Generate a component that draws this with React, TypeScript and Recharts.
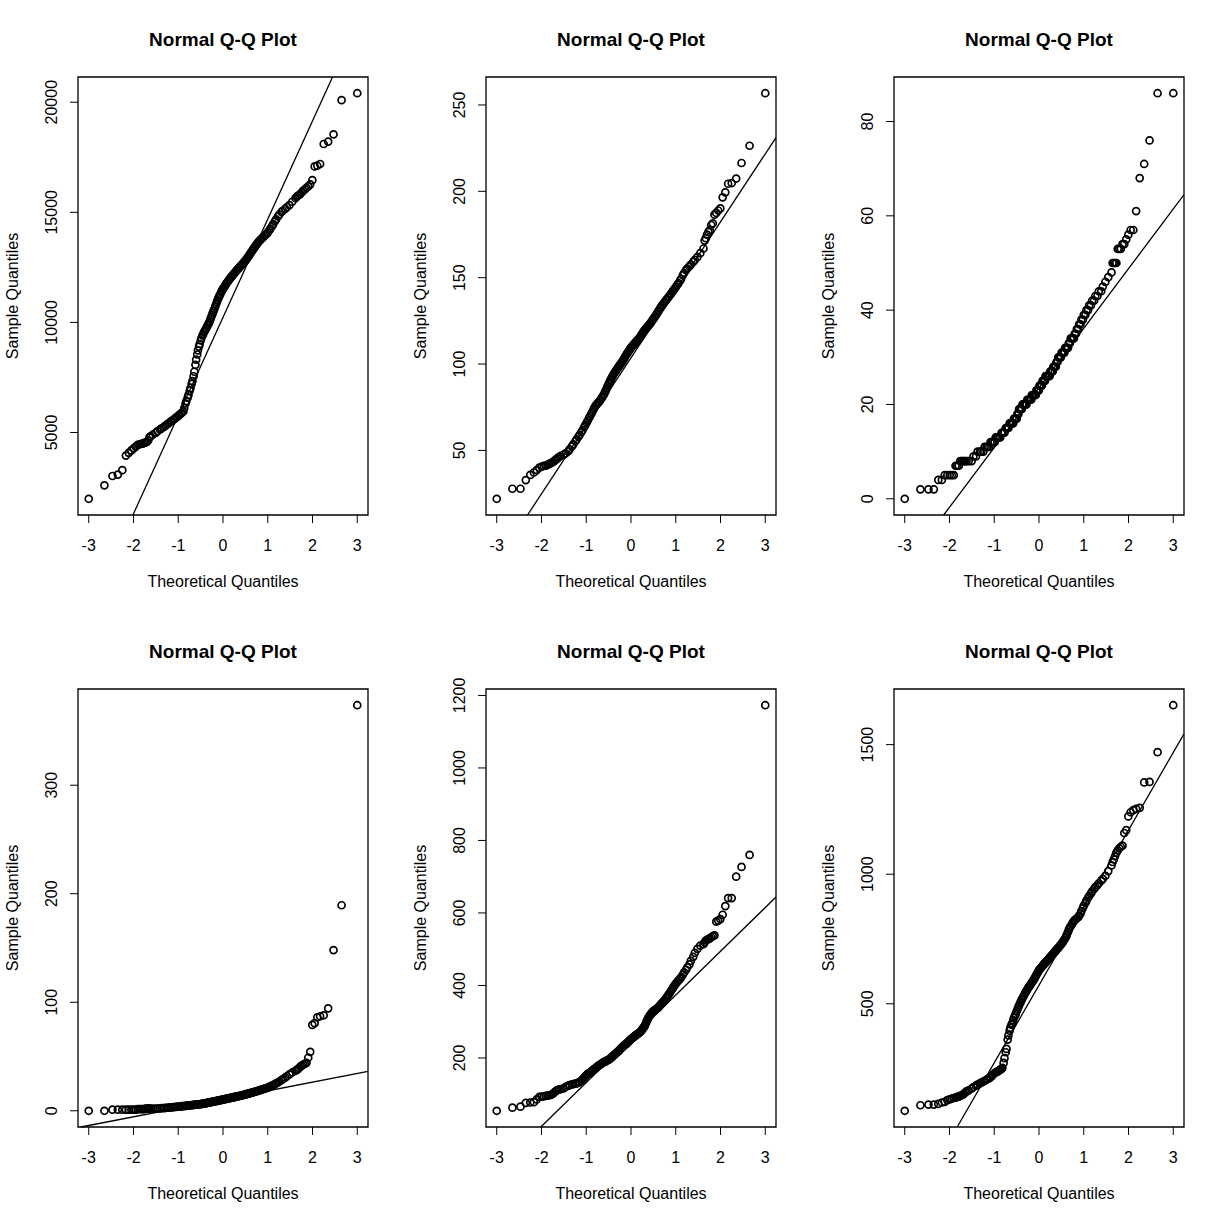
import { ScatterChart, Scatter, XAxis, YAxis, ReferenceLine, ReferenceArea } from "recharts";

const FONT = '"Liberation Sans", Arial, Helvetica, sans-serif';

// theoretical normal quantiles of the plotted ranks (n = 370)
const THEORETICAL = [
	-3.0, -2.65, -2.47, -2.35, -2.25, -2.17, -2.107, -2.048, -1.996, -1.949,
	-1.905, -1.865, -1.828, -1.793, -1.76, -1.729, -1.7, -1.672, -1.645, -1.62,
	-1.571, -1.505, -1.464, -1.407, -1.372, -1.321, -1.29, -1.243, -1.215, -1.174,
	-1.147, -1.109, -1.083, -1.048, -1.025, -0.991, -0.969, -0.937, -0.916, -0.886,
	-0.866, -0.837, -0.818, -0.79, -0.771, -0.744, -0.726, -0.7, -0.683, -0.657,
	-0.641, -0.616, -0.6, -0.576, -0.56, -0.536, -0.521, -0.497, -0.482, -0.459,
	-0.445, -0.422, -0.408, -0.385, -0.371, -0.349, -0.335, -0.313, -0.299, -0.278,
	-0.264, -0.243, -0.229, -0.208, -0.194, -0.174, -0.16, -0.139, -0.126, -0.105,
	-0.092, -0.071, -0.058, -0.037, -0.024, -0.003, 0.01, 0.031, 0.044, 0.064,
	0.078, 0.098, 0.112, 0.133, 0.146, 0.167, 0.181, 0.201, 0.215, 0.236,
	0.25, 0.271, 0.285, 0.306, 0.32, 0.341, 0.356, 0.377, 0.392, 0.414,
	0.429, 0.451, 0.467, 0.489, 0.505, 0.528, 0.544, 0.568, 0.584, 0.608,
	0.624, 0.649, 0.666, 0.691, 0.709, 0.735, 0.753, 0.78, 0.798, 0.827,
	0.846, 0.876, 0.896, 0.927, 0.948, 0.981, 1.002, 1.036, 1.06, 1.096,
	1.121, 1.16, 1.187, 1.229, 1.258, 1.305, 1.337, 1.39, 1.426, 1.484,
	1.548,
	1.62, 1.645, 1.672, 1.7, 1.729, 1.76, 1.793, 1.828, 1.865, 1.905,
	1.949, 1.996, 2.048, 2.107, 2.17, 2.25, 2.35, 2.47, 2.65, 3.0,
];

const X_TICKS = [-3, -2, -1, 0, 1, 2, 3];

const SAMPLE_1 = [
	1990, 2602, 3025, 3087, 3291, 3950, 4075, 4185, 4280, 4357,
	4436, 4467, 4483, 4498, 4530, 4545, 4577, 4640, 4780, 4827,
	4900, 4984, 5060, 5141, 5190, 5251, 5300, 5376, 5420, 5486,
	5525, 5580, 5620, 5674, 5710, 5768, 5810, 5862, 5909, 5956,
	6113, 6317, 6426, 6583, 6708, 6897, 7022, 7210, 7335, 7555,
	7759, 8072, 8307, 8542, 8730, 8903, 9020, 9185, 9290, 9404,
	9470, 9561, 9620, 9687, 9750, 9843, 9900, 9969, 10050, 10157,
	10240, 10345, 10430, 10533, 10610, 10721, 10800, 10909, 10990, 11097,
	11160, 11238, 11300, 11379, 11440, 11520, 11560, 11614, 11660, 11724,
	11770, 11834, 11870, 11928, 11970, 12022, 12055, 12100, 12140, 12194,
	12230, 12273, 12310, 12367, 12400, 12445, 12480, 12524, 12560, 12602,
	12640, 12696, 12730, 12774, 12820, 12884, 12930, 12994, 13045, 13119,
	13170, 13244, 13295, 13370, 13420, 13495, 13545, 13621, 13670, 13730,
	13770, 13824, 13870, 13934, 13975, 14028, 14090, 14185, 14260, 14373,
	14460, 14592, 14680, 14812, 14900, 15016, 15070, 15157, 15230, 15329,
	15480,
	15643, 15705, 15752, 15784, 15831, 15909, 15987, 16035, 16113, 16176,
	16270, 16458, 17085, 17116, 17194, 18103, 18213, 18542, 20094, 20408,
];

const SAMPLE_2 = [
	22.0, 27.8, 27.8, 32.8, 35.8, 37.2, 38.6, 40.0, 40.6, 41.0,
	41.2, 41.6, 42.2, 42.6, 43.0, 43.6, 44.2, 44.8, 45.4, 46.0,
	46.8, 47.5, 48.3, 49.4, 50.6, 52.3, 53.5, 55.3, 56.4, 58.0,
	59.0, 60.6, 61.7, 63.4, 64.5, 66.0, 67.2, 68.8, 69.8, 71.3,
	72.3, 73.8, 74.8, 75.9, 76.5, 77.3, 77.8, 78.6, 79.3, 80.3,
	80.9, 82.0, 82.7, 84.0, 84.9, 86.4, 87.3, 88.7, 89.4, 90.6,
	91.4, 92.5, 93.2, 94.2, 94.8, 95.6, 96.2, 97.1, 97.6, 98.4,
	98.9, 99.7, 100.2, 100.9, 101.5, 102.3, 102.9, 103.9, 104.5, 105.4,
	105.9, 106.7, 107.2, 108.0, 108.6, 109.4, 109.8, 110.4, 110.8, 111.4,
	111.8, 112.4, 112.9, 113.5, 113.9, 114.5, 114.9, 115.5, 116.1, 117.0,
	117.5, 118.3, 118.9, 119.7, 120.1, 120.7, 121.2, 121.8, 122.3, 123.0,
	123.5, 124.3, 124.9, 125.7, 126.3, 127.2, 127.8, 128.8, 129.4, 130.4,
	131.1, 132.1, 132.8, 133.8, 134.4, 135.3, 135.9, 136.8, 137.5, 138.4,
	139.1, 140.1, 140.8, 141.9, 142.7, 143.8, 144.6, 145.9, 146.8, 148.3,
	149.4, 151.5, 152.7, 154.4, 155.3, 156.6, 157.6, 159.2, 160.3, 162.0,
	164.2,
	166.9, 171.5, 172.9, 174.9, 176.5, 177.5, 180.5, 181.5, 186.5, 187.5,
	188.9, 190.1, 196.5, 199.4, 204.4, 204.8, 207.4, 216.4, 226.4, 256.8,
];

const SAMPLE_3 = [
	0, 2, 2, 2, 4, 4, 5, 5, 5, 5,
	5, 7, 7, 7, 8, 8, 8, 8, 8, 8,
	8, 8, 9, 9, 10, 10, 10, 10, 11, 11,
	11, 11, 12, 12, 12, 12, 13, 13, 13, 13,
	13, 14, 14, 14, 14, 15, 15, 15, 15, 16,
	16, 16, 16, 16, 17, 17, 17, 17, 18, 18,
	19, 19, 19, 19, 20, 20, 20, 20, 20, 20,
	21, 21, 21, 21, 21, 21, 22, 22, 22, 22,
	22, 22, 23, 23, 23, 23, 24, 24, 24, 24,
	25, 25, 25, 25, 26, 26, 26, 26, 26, 26,
	27, 27, 27, 27, 28, 28, 28, 28, 29, 29,
	30, 30, 30, 30, 31, 31, 31, 31, 32, 32,
	32, 32, 33, 33, 34, 34, 34, 34, 35, 35,
	36, 36, 37, 37, 38, 38, 39, 39, 40, 40,
	41, 41, 42, 42, 43, 43, 44, 44, 45, 46,
	47,
	48, 50, 50, 50, 50, 53, 53, 53, 54, 54,
	55, 56, 57, 57, 61, 68, 71, 76, 86, 86,
];

const SAMPLE_4 = [
	0, 0, 1, 1, 1, 1, 1, 1, 1, 1,
	1.5, 1.5, 1.5, 1.5, 1.5, 2, 2, 2, 2, 2,
	2.0, 2.0, 2.1, 2.2, 2.4, 2.5, 2.6, 2.8, 2.9, 3.1,
	3.2, 3.4, 3.5, 3.6, 3.7, 3.8, 3.9, 4.1, 4.2, 4.3,
	4.4, 4.5, 4.6, 4.8, 4.9, 5.0, 5.1, 5.2, 5.3, 5.4,
	5.5, 5.6, 5.7, 5.8, 5.9, 6.0, 6.0, 6.1, 6.3, 6.4,
	6.5, 6.7, 6.8, 7.0, 7.1, 7.3, 7.4, 7.6, 7.7, 7.9,
	8.0, 8.2, 8.3, 8.5, 8.6, 8.8, 8.9, 9.1, 9.2, 9.4,
	9.5, 9.7, 9.8, 10.0, 10.1, 10.3, 10.4, 10.6, 10.7, 10.9,
	11.0, 11.2, 11.3, 11.5, 11.6, 11.8, 11.9, 12.1, 12.3, 12.5,
	12.6, 12.8, 12.9, 13.1, 13.2, 13.4, 13.6, 13.8, 13.9, 14.1,
	14.3, 14.5, 14.7, 14.9, 15.1, 15.3, 15.5, 15.8, 16.0, 16.3,
	16.5, 16.8, 17.0, 17.3, 17.5, 17.8, 18.0, 18.4, 18.7, 19.0,
	19.3, 19.6, 19.9, 20.3, 20.6, 21.0, 21.4, 22.0, 22.5, 23.2,
	23.7, 24.5, 25.2, 26.2, 27.0, 28.2, 29.1, 30.6, 31.8, 33.5,
	35.3,
	36.9, 37.5, 38.4, 39.4, 40.7, 41.6, 42.6, 43.2, 44.2, 48.9,
	54.3, 79.1, 80.7, 86.1, 87.1, 88.0, 94.4, 148.1, 189.4, 373.7,
];

const SAMPLE_5 = [
	54.3, 62.9, 65.7, 76.2, 77.1, 78, 85.7, 92.4, 93.3, 94.3,
	95.2, 96.2, 97.1, 98.1, 100, 102.9, 106.7, 109.5, 111.4, 112.4,
	114, 116, 120, 123, 125, 127, 128, 129, 130, 132,
	134, 137, 141, 145, 149, 153, 156, 158, 160, 163,
	165, 168, 170, 172, 174, 177, 179, 181, 182, 184,
	186, 188, 189, 190, 191, 193, 194, 195, 197, 199,
	201, 203, 205, 207, 209, 211, 213, 215, 217, 219,
	221, 224, 226, 228, 230, 232, 234, 236, 237, 239,
	241, 243, 245, 247, 249, 252, 253, 255, 256, 258,
	260, 262, 263, 265, 266, 268, 269, 271, 273, 276,
	279, 282, 285, 288, 292, 298, 303, 308, 312, 316,
	319, 322, 325, 328, 330, 332, 333, 335, 337, 339,
	342, 345, 348, 351, 354, 357, 360, 364, 368, 372,
	376, 381, 386, 391, 396, 401, 405, 410, 414, 418,
	423, 430, 436, 443, 450, 458, 468, 479, 490, 501,
	510,
	514, 519, 524, 526, 528, 530, 533, 536, 538, 576,
	579, 583, 595, 619, 641, 641, 700, 727, 760, 1173,
];

const SAMPLE_6 = [
	87.2, 108.5, 111.2, 111.2, 113.8, 119.2, 121.8, 128.5, 131.2, 133.8,
	136.5, 137.8, 140.5, 141.8, 144.5, 147.1, 149.8, 153.8, 157.8, 161.8,
	166, 173, 179, 184, 188, 193, 196, 200, 203, 207,
	210, 213, 217, 222, 227, 233, 235, 237, 240, 243,
	246, 249, 253, 272, 290, 313, 326, 362, 378, 396,
	408, 419, 425, 436, 446, 454, 461, 472, 479, 488,
	494, 502, 508, 516, 521, 528, 533, 540, 545, 550,
	555, 560, 565, 569, 573, 578, 582, 587, 591, 596,
	601, 607, 612, 618, 623, 629, 632, 636, 639, 643,
	646, 650, 653, 657, 660, 663, 666, 670, 673, 677,
	680, 684, 687, 691, 694, 698, 701, 705, 709, 713,
	716, 720, 724, 728, 732, 737, 742, 748, 754, 760,
	768, 777, 786, 794, 800, 806, 813, 819, 823, 827,
	830, 834, 840, 848, 858, 870, 879, 889, 898, 909,
	916, 926, 934, 943, 950, 958, 965, 975, 982, 994,
	1012,
	1034, 1047, 1057, 1070, 1083, 1092, 1100, 1106, 1110, 1159,
	1170, 1223, 1239, 1247, 1252, 1256, 1354, 1356, 1471, 1652,
];

const Y_TICKS_1 = [5000, 10000, 15000, 20000];
const Y_TICKS_2 = [50, 100, 150, 200, 250];
const Y_TICKS_3 = [0, 20, 40, 60, 80];
const Y_TICKS_4 = [0, 100, 200, 300];
const Y_TICKS_5 = [200, 400, 600, 800, 1000, 1200];
const Y_TICKS_6 = [500, 1000, 1500];

// qq reference lines: [intercept, slope]
const LINE_1 = [10230, 4460];
const LINE_2 = [103.6, 39.36];
const LINE_3 = [23.5, 12.65];
const LINE_4 = [10.4, 7.98];
const LINE_5 = [252.8, 120.7];
const LINE_6 = [571.7, 299.3];

const PANELS = [
	{ values: SAMPLE_1, yTicks: Y_TICKS_1, line: LINE_1 },
	{ values: SAMPLE_2, yTicks: Y_TICKS_2, line: LINE_2 },
	{ values: SAMPLE_3, yTicks: Y_TICKS_3, line: LINE_3 },
	{ values: SAMPLE_4, yTicks: Y_TICKS_4, line: LINE_4 },
	{ values: SAMPLE_5, yTicks: Y_TICKS_5, line: LINE_5 },
	{ values: SAMPLE_6, yTicks: Y_TICKS_6, line: LINE_6 },
];

const PANEL_W = 408;
const PANEL_H = 612;

// R-style range padding of 4%
const padRange = (vals: number[]): [number, number] => {
	const lo = Math.min(...vals);
	const hi = Math.max(...vals);
	const d = (hi - lo) * 0.04;
	return [lo - d, hi + d];
};

const Ring = (props: any) => {
	const { cx, cy } = props;
	return <circle cx={cx} cy={cy} r={3.5} fill="none" stroke="#000" strokeWidth={1.7} />;
};

const XTick = (props: any) => {
	const { x, y, payload } = props;
	return (
		<text x={x} y={y} dy={11.5} textAnchor="middle" fontSize={16} fontFamily={FONT} fill="#000">
			{payload.value}
		</text>
	);
};

const YTick = (props: any) => {
	const { x, y, payload } = props;
	return (
		<text
			x={x}
			y={y}
			transform={`rotate(-90 ${x} ${y})`}
			textAnchor="middle"
			fontSize={16}
			fontFamily={FONT}
			fill="#000">
			{payload.value}
		</text>
	);
};

const QQPanel = ({ values, yTicks, line }: { values: number[]; yTicks: number[]; line: number[] }) => {
	const n = Math.min(THEORETICAL.length, values.length);
	const points = THEORETICAL.slice(0, n).map((x, i) => ({ x, y: values[i] }));
	const xDomain = padRange(THEORETICAL);
	const yDomain = padRange(values);
	const [b, m] = line;

	// keep the qq line inside the plot box
	const xa = Math.max(xDomain[0], (yDomain[0] - b) / m);
	const xb = Math.min(xDomain[1], (yDomain[1] - b) / m);
	const segment = [
		{ x: xa, y: b + m * xa },
		{ x: xb, y: b + m * xb },
	];

	return (
		<div style={{ position: "relative", width: PANEL_W, height: PANEL_H }}>
			<div
				style={{
					position: "absolute",
					left: 78,
					width: 290,
					top: 30,
					textAlign: "center",
					fontFamily: FONT,
					fontWeight: "bold",
					fontSize: 19,
					lineHeight: "19px",
				}}>
				Normal Q-Q Plot
			</div>
			<div
				style={{
					position: "absolute",
					left: 78,
					width: 290,
					top: 574,
					textAlign: "center",
					fontFamily: FONT,
					fontSize: 16,
					lineHeight: "16px",
				}}>
				Theoretical Quantiles
			</div>
			<div
				style={{
					position: "absolute",
					left: 13 - 150,
					width: 300,
					top: 296 - 8,
					textAlign: "center",
					fontFamily: FONT,
					fontSize: 16,
					lineHeight: "16px",
					transform: "rotate(-90deg)",
				}}>
				Sample Quantiles
			</div>
			<div style={{ position: "absolute", left: 0, top: 0 }}>
				<ScatterChart
					width={PANEL_W}
					height={PANEL_H}
					margin={{ top: 77, right: 40, bottom: 57, left: 18 }}>
					<XAxis
						type="number"
						dataKey="x"
						domain={xDomain}
						allowDataOverflow
						ticks={X_TICKS}
						interval={0}
						tick={<XTick />}
						tickSize={8}
						tickMargin={16}
						axisLine={false}
						stroke="#000"
						height={40}
					/>
					<YAxis
						type="number"
						dataKey="y"
						domain={yDomain}
						allowDataOverflow
						ticks={yTicks}
						interval={0}
						tick={<YTick />}
						tickSize={8}
						tickMargin={13}
						axisLine={false}
						stroke="#000"
						width={60}
					/>
					<ReferenceArea
						x1={xDomain[0]}
						x2={xDomain[1]}
						y1={yDomain[0]}
						y2={yDomain[1]}
						fill="#fff"
						fillOpacity={0}
						stroke="#000"
						strokeWidth={1.3}
						ifOverflow="visible"
					/>
					<ReferenceLine segment={segment} stroke="#000" strokeWidth={1.3} ifOverflow="visible" />
					<Scatter data={points} shape={<Ring />} isAnimationActive={false} />
				</ScatterChart>
			</div>
		</div>
	);
};

const App = () => {
	return (
		<div
			style={{
				position: "absolute",
				left: 0,
				top: 0,
				width: 1224,
				height: 1224,
				background: "#fff",
			}}>
			{PANELS.map((p, i) => (
				<div
					key={i}
					style={{
						position: "absolute",
						left: (i % 3) * PANEL_W,
						top: Math.floor(i / 3) * PANEL_H,
					}}>
					<QQPanel values={p.values} yTicks={p.yTicks} line={p.line} />
				</div>
			))}
		</div>
	);
};

export default App;
